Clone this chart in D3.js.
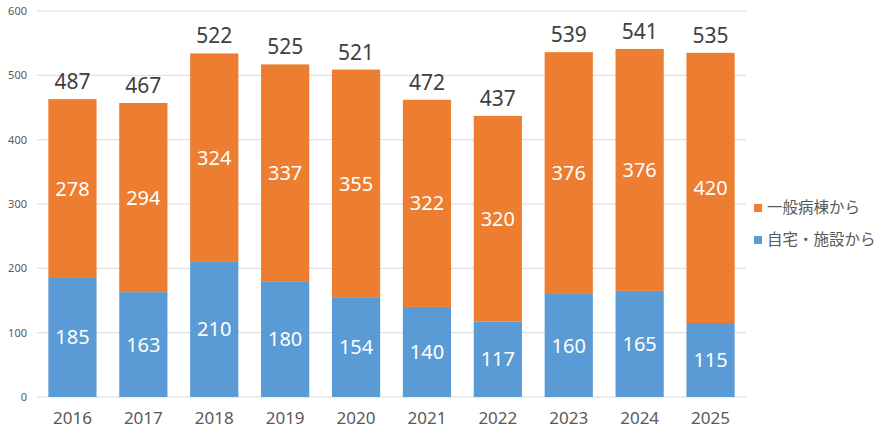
<!DOCTYPE html>
<html><head><meta charset="utf-8">
<script src="https://cdn.jsdelivr.net/npm/d3@7"></script>
<style>body{margin:0;background:#fff;} svg{display:block;}</style>
</head><body>
<svg id="chart" width="888" height="436"></svg>
<script>
const years = ["2016","2017","2018","2019","2020","2021","2022","2023","2024","2025"];
const homeFacility = [185,163,210,180,154,140,117,160,165,115];
const generalWard = [278,294,324,337,355,322,320,376,376,420];
const totalLabels = [487,467,522,525,521,472,437,539,541,535];
const yTicks = [0,100,200,300,400,500,600];
const seriesNames = ["一般病棟から","自宅・施設から"];

const svg = d3.select("#chart");
const margin = {left:37, right:142, top:11, bottom:39};
const W = 888, H = 436;
const x = d3.scaleBand().domain(years).range([margin.left, W - margin.right]).paddingInner(0.32).paddingOuter(0.16);
const y = d3.scaleLinear().domain([0,600]).range([H - margin.bottom, margin.top]);
const font = "'Noto Sans', 'Noto Sans CJK JP', sans-serif";

// gridlines
svg.append("g").selectAll("line").data(yTicks).join("line")
  .attr("x1", margin.left).attr("x2", W - margin.right)
  .attr("y1", d => y(d)).attr("y2", d => y(d))
  .attr("stroke", "#d9d9d9").attr("stroke-width", 1);

// y axis labels
const yAxis = svg.append("g").attr("transform", `translate(${margin.left - 10},0)`)
  .call(d3.axisLeft(y).tickValues(yTicks).tickSize(0).tickPadding(0));
yAxis.select(".domain").remove();
yAxis.selectAll("text").attr("font-family", font).attr("font-size", 11).attr("fill", "#595959");

// x axis labels
const xAxis = svg.append("g").attr("transform", `translate(0,${y(0)})`)
  .call(d3.axisBottom(x).tickSize(0).tickPadding(15));
xAxis.select(".domain").remove();
xAxis.selectAll("text").attr("font-family", font).attr("font-size", 17).attr("fill", "#595959");

const data = years.map((yr,i) => ({year: yr, home: homeFacility[i], ward: generalWard[i], total: totalLabels[i]}));
const stack = d3.stack().keys(["home","ward"])(data);
const colors = {home: "#5b9bd5", ward: "#ed7d31"};

svg.append("g").selectAll("g").data(stack).join("g")
  .attr("fill", s => colors[s.key])
  .selectAll("rect").data(s => s).join("rect")
  .attr("x", d => x(d.data.year)).attr("width", x.bandwidth())
  .attr("y", d => y(d[1])).attr("height", d => y(d[0]) - y(d[1]));

// inner labels
svg.append("g").selectAll("g").data(stack).join("g")
  .selectAll("text").data(s => s).join("text")
  .attr("x", d => x(d.data.year) + x.bandwidth()/2)
  .attr("y", d => (y(d[0]) + y(d[1]))/2)
  .attr("dy", "0.35em")
  .attr("text-anchor", "middle")
  .attr("font-family", font).attr("font-size", 20).attr("fill", "#fff")
  .text(d => d[1] - d[0]);

// total labels
svg.append("g").selectAll("text").data(data).join("text")
  .attr("x", d => x(d.year) + x.bandwidth()/2)
  .attr("y", d => y(d.home + d.ward) - 10)
  .attr("text-anchor", "middle")
  .attr("font-family", font).attr("font-size", 21).attr("fill", "#404040")
  .text(d => d.total);

// legend
const legend = svg.append("g");
const legendColors = [colors.ward, colors.home];
seriesNames.forEach((n,i) => {
  const ly = 208 + i*32;
  legend.append("rect").attr("x", 754).attr("y", ly - 4).attr("width", 8).attr("height", 8).attr("fill", legendColors[i]);
  legend.append("text").attr("x", 767).attr("y", ly).attr("dy","0.35em")
    .attr("font-family", font).attr("font-size", 15.5).attr("fill", "#595959").text(n);
});
</script>
</body></html>
